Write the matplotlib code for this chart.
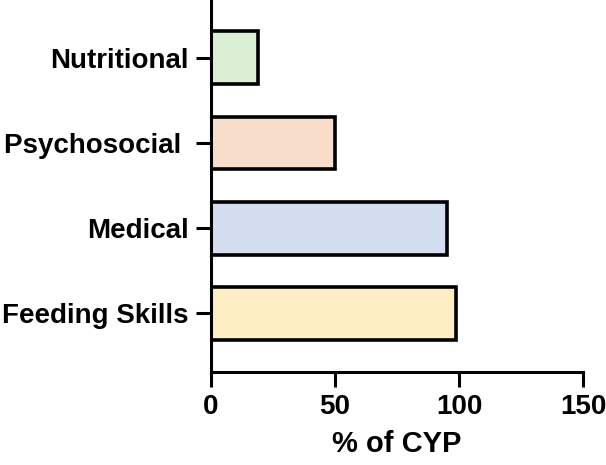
import matplotlib
matplotlib.use('Agg')
from matplotlib import pyplot as plt

categories = ['Feeding Skills', 'Medical', 'Psychosocial ', 'Nutritional']
values = [99, 95, 50, 19]
colors = ['#fdedc2', '#d4dcf0', '#f9ddcb', '#dbefd4']
xticks = [0, 50, 100, 150]

plt.rcParams['font.family'] = ['Liberation Sans', 'DejaVu Sans']
plt.rcParams['font.weight'] = 'bold'

fig = plt.figure(figsize=(6.06, 4.65), dpi=100)
ax = fig.add_axes([0.348, 0.2, 0.614, 0.8])

ypos = list(range(len(categories)))
ax.barh(ypos, values, height=0.62, color=colors, edgecolor='black', linewidth=2.6)

ax.set_xlim(0, 150)
ax.set_ylim(-0.69, 3.68)
ax.set_xticks(xticks)
ax.set_yticks(ypos)
ax.set_yticklabels(categories)
ax.set_xlabel('% of CYP', fontsize=21, fontweight='bold', labelpad=7)

for side in ['top', 'right']:
    ax.spines[side].set_visible(False)
for side in ['left', 'bottom']:
    ax.spines[side].set_linewidth(2.2)
ax.tick_params(axis='both', width=2.2, length=11, labelsize=20, pad=5)

fig.savefig('out.png', dpi=100)
